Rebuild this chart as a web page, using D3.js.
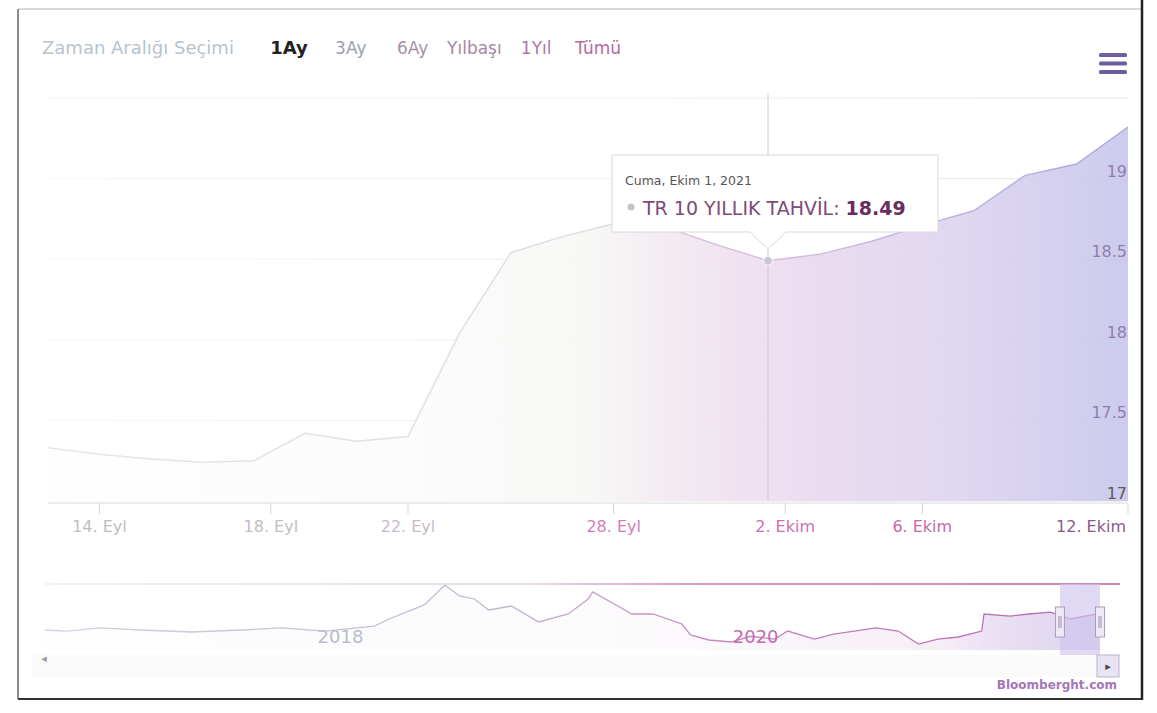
<!DOCTYPE html>
<html>
<head>
<meta charset="utf-8">
<script src="https://cdnjs.cloudflare.com/ajax/libs/d3/7.8.5/d3.min.js"></script>
<style>
body { margin: 0; background: #fff; }
text { font-family: "DejaVu Sans", sans-serif; }
</style>
</head>
<body>
<div id="chart"></div>
<script>
// main series (trading days, ordinal axis)
var dates = ['2021-09-13','2021-09-14','2021-09-15','2021-09-16','2021-09-17',
             '2021-09-20','2021-09-21','2021-09-22','2021-09-23','2021-09-24',
             '2021-09-27','2021-09-28','2021-09-29','2021-09-30','2021-10-01',
             '2021-10-04','2021-10-05','2021-10-06','2021-10-07','2021-10-08',
             '2021-10-11','2021-10-12'];
var values = [17.33, 17.29, 17.26, 17.24, 17.25,
              17.42, 17.37, 17.40, 18.04, 18.54,
              18.64, 18.72, 18.70, 18.59, 18.49,
              18.53, 18.61, 18.71, 18.80, 19.02,
              19.09, 19.32];
var tick_dates = ['2021-09-14','2021-09-18','2021-09-22','2021-09-28','2021-10-02','2021-10-06','2021-10-12'];
var tick_labels = ['14. Eyl','18. Eyl','22. Eyl','28. Eyl','2. Ekim','6. Ekim','12. Ekim'];
var y_ticks = [17, 17.5, 18, 18.5, 19, 19.5];
var range_buttons = ['1Ay','3Ay','6Ay','Yılbaşı','1Yıl','Tümü'];
var hover_index = 14;

// navigator history
var nav_dates = ['2016-09-14','2016-10-23','2016-12-20','2017-03-01','2017-05-30','2017-08-25',
                 '2017-11-03','2018-01-19','2018-04-16','2018-05-12','2018-07-13','2018-08-18',
                 '2018-09-13','2018-10-09','2018-11-03','2018-12-13','2019-01-30','2019-03-23',
                 '2019-04-27','2019-05-05','2019-06-18','2019-07-13','2019-08-19','2019-10-09',
                 '2019-10-24','2019-11-25','2020-01-04','2020-02-06','2020-03-20','2020-04-12',
                 '2020-05-29','2020-07-02','2020-08-07','2020-09-14','2020-10-23','2020-11-28',
                 '2021-01-01','2021-02-06','2021-03-19','2021-03-23','2021-05-08','2021-06-10',
                 '2021-07-18','2021-08-22','2021-10-08','2021-10-12'];
var nav_values = [16.48, 16.35, 16.73, 16.48, 16.23, 16.48,
                  16.73, 16.35, 16.97, 17.84, 19.58, 22.05,
                  20.69, 20.32, 18.96, 19.45, 17.47, 18.46,
                  20.32, 21.19, 19.45, 18.46, 18.46, 17.22,
                  15.86, 15.24, 14.99, 15.70, 15.36, 16.35,
                  15.36, 15.98, 16.35, 16.73, 16.35, 14.74,
                  15.36, 15.61, 16.35, 18.46, 18.20, 18.46,
                  18.70, 17.84, 18.46, 18.71];
var nav_years = ['2018', '2020'];

var chart_width = 1157;
var chart_height = 713;
var plot = {left: 48, right: 1128, top: 98, bottom: 501};

var parse = d3.timeParse('%Y-%m-%d');

var svg = d3.select('#chart')
            .append('svg')
            .attr('width', chart_width)
            .attr('height', chart_height);

var defs = svg.append('defs');

function hgrad(id, x1, x2, stops){
    var g = defs.append('linearGradient')
        .attr('id', id)
        .attr('gradientUnits', 'userSpaceOnUse')
        .attr('x1', x1).attr('x2', x2).attr('y1', 0).attr('y2', 0);
    stops.forEach(function(s){
        g.append('stop').attr('offset', s[0]).attr('stop-color', s[1]);
    });
}
hgrad('area-grad', plot.left, plot.right, [[0,'#fefefe'],[0.35,'#fbfbfb'],[0.5,'#f7f7f5'],
      [0.58,'#f2e9f1'],[0.68,'#ecdcef'],[0.85,'#ddd4f0'],[1,'#c9c8ec']]);
hgrad('line-grad', plot.left, plot.right, [[0,'#e6e6e6'],[0.5,'#dedede'],[0.6,'#dcc4dc'],[1,'#a9a8dc']]);
hgrad('nav-area-grad', 45, 1100, [[0,'#fefefe'],[0.6,'#fcfafc'],[0.85,'#f6eef6'],[0.89,'#ebe2f4'],[1,'#dcd3f0']]);
hgrad('nav-line-grad', 45, 1100, [[0,'#cfd5de'],[0.45,'#bdb6cc'],[0.6,'#c98cc0'],[1,'#b868b0']]);
hgrad('nav-outline-grad', 45, 1120, [[0,'#eeeeee'],[0.45,'#e0d0e0'],[0.6,'#d07ab8'],[1,'#c05aa8']]);
hgrad('grid-grad', plot.left, plot.right, [[0,'#f6f6f6'],[0.6,'#eeeeee'],[1,'#e4e4e4']]);

//Scales
var x = d3.scaleLinear().domain([0, dates.length - 1]).range([plot.left, plot.right]);
var y = d3.scaleLinear().domain([17, 19.5]).range([plot.bottom, plot.top]);

var times = dates.map(function(d){ return parse(d).getTime(); });
function date_index(s){
    var t = parse(s).getTime();
    var i = d3.bisectLeft(times, t);
    if (times[i] === t) return i;
    return i - 1 + (t - times[i - 1]) / (times[i] - times[i - 1]);
}

var label_color = d3.scaleLinear()
    .domain([48, 450, 620, 950, 1128])
    .range(['#bdbdbd', '#c9bbc9', '#d47bb8', '#c466a8', '#8a5a8a']);

// frame of the printed page
svg.append('line').attr('x1', 18).attr('y1', 9).attr('x2', 1142).attr('y2', 9)
    .attr('stroke', '#b5b5b5').attr('stroke-width', 1);
svg.append('line').attr('x1', 18).attr('y1', 9).attr('x2', 18).attr('y2', 699)
    .attr('stroke', '#666').attr('stroke-width', 1.5);
svg.append('line').attr('x1', 18).attr('y1', 699).attr('x2', 1142).attr('y2', 699)
    .attr('stroke', '#333').attr('stroke-width', 2);
svg.append('line').attr('x1', 1142).attr('y1', 0).attr('x2', 1142).attr('y2', 700)
    .attr('stroke', '#222').attr('stroke-width', 2.5);

// range selector
svg.append('text')
    .attr('x', 42).attr('y', 54)
    .attr('font-size', '18px')
    .attr('fill', '#b8c3cc')
    .text('Zaman Aralığı Seçimi');

var btn_x = d3.scalePoint().domain(range_buttons).range([289, 598]);
var btn_color = d3.scaleLinear().domain([340, 600]).range(['#9aa3ab', '#b56a9e']);
svg.selectAll('.btn')
    .data(range_buttons)
    .enter()
    .append('text')
    .attr('class', 'btn')
    .attr('x', function(d){ return btn_x(d); })
    .attr('y', 54)
    .attr('text-anchor', 'middle')
    .attr('font-size', function(d, i){ return i === 0 ? '18px' : '17px'; })
    .attr('font-weight', function(d, i){ return i === 0 ? 'bold' : 'normal'; })
    .attr('fill', function(d, i){ return i === 0 ? '#222' : btn_color(btn_x(d)); })
    .text(function(d){ return d; });

// menu icon
svg.selectAll('.menu')
    .data([0, 1, 2])
    .enter()
    .append('rect')
    .attr('x', 1099).attr('width', 28).attr('height', 4).attr('rx', 1.5)
    .attr('y', function(d){ return 53 + d * 8.5; })
    .attr('fill', '#6e5e9e');

// gridlines
svg.selectAll('.grid')
    .data(y_ticks)
    .enter()
    .append('line')
    .attr('x1', plot.left).attr('x2', plot.right)
    .attr('y1', function(d){ return y(d); })
    .attr('y2', function(d){ return y(d); })
    .attr('stroke', 'url(#grid-grad)')
    .attr('stroke-width', 1);

// area + line
var area = d3.area()
    .x(function(d, i){ return x(i); })
    .y0(plot.bottom)
    .y1(function(d){ return y(d); });
var line = d3.line()
    .x(function(d, i){ return x(i); })
    .y(function(d){ return y(d); });

svg.append('path')
    .datum(values)
    .attr('d', area)
    .attr('fill', 'url(#area-grad)')
    .attr('fill-opacity', 0.94);
svg.append('path')
    .datum(values)
    .attr('d', line)
    .attr('fill', 'none')
    .attr('stroke', 'url(#line-grad)')
    .attr('stroke-width', 1.5);

// x axis
svg.append('line')
    .attr('x1', plot.left).attr('x2', plot.right)
    .attr('y1', plot.bottom + 2).attr('y2', plot.bottom + 2)
    .attr('stroke', '#dadada');
svg.selectAll('.xtick')
    .data(tick_dates)
    .enter()
    .append('line')
    .attr('x1', function(d){ return x(date_index(d)); })
    .attr('x2', function(d){ return x(date_index(d)); })
    .attr('y1', plot.bottom + 2).attr('y2', plot.bottom + 13)
    .attr('stroke', '#d4d4d4');
svg.selectAll('.xlabel')
    .data(tick_dates)
    .enter()
    .append('text')
    .attr('x', function(d, i){
        var px = x(date_index(d));
        return i === tick_dates.length - 1 ? px - 2 : px;
    })
    .attr('y', plot.bottom + 31)
    .attr('text-anchor', function(d, i){ return i === tick_dates.length - 1 ? 'end' : 'middle'; })
    .attr('font-size', '16px')
    .attr('fill', function(d){ return label_color(x(date_index(d))); })
    .text(function(d, i){ return tick_labels[i]; });

// y axis labels (inside, right)
svg.selectAll('.ylabel')
    .data(y_ticks.slice(0, 5))
    .enter()
    .append('text')
    .attr('x', plot.right - 1)
    .attr('y', function(d){ return y(d) - 2; })
    .attr('text-anchor', 'end')
    .attr('font-size', '16px')
    .attr('fill', function(d){ return d === 17 ? '#5a5a5a' : '#8f7eaa'; })
    .text(function(d){ return d; });

// crosshair + hover marker
svg.append('line')
    .attr('x1', x(hover_index)).attr('x2', x(hover_index))
    .attr('y1', plot.top - 5).attr('y2', plot.bottom)
    .attr('stroke', '#cccccc');
svg.append('circle')
    .attr('cx', x(hover_index)).attr('cy', y(values[hover_index]))
    .attr('r', 4.5)
    .attr('fill', '#c8c8d4')
    .attr('stroke', '#fff')
    .attr('stroke-width', 1);

// tooltip
var tip = svg.append('g');
var tx = x(hover_index), ty = y(values[hover_index]);
tip.append('path')
    .attr('d', 'M612,155 H938 V232 H' + (tx + 18) + ' L' + tx + ',' + (ty - 12) +
               ' L' + (tx - 18) + ',232 H612 Z')
    .attr('fill', '#fff')
    .attr('stroke', '#dcd6de')
    .attr('stroke-width', 1);
tip.append('text')
    .attr('x', 625).attr('y', 185)
    .attr('font-size', '12.5px')
    .attr('fill', '#555')
    .text('Cuma, Ekim 1, 2021');
tip.append('circle')
    .attr('cx', 631).attr('cy', 207).attr('r', 3.5)
    .attr('fill', '#c4c4c4');
var t2 = tip.append('text')
    .attr('x', 643).attr('y', 215)
    .attr('font-size', '19px')
    .attr('fill', '#7e4a78');
t2.append('tspan').text('TR 10 YILLIK TAHVİL: ');
t2.append('tspan').attr('font-weight', 'bold').attr('fill', '#6a2c5e').text(values[hover_index].toFixed(2));

// navigator
var nx = d3.scaleTime()
    .domain([parse('2016-09-14'), parse('2021-10-13')])
    .range([45, 1100]);
var ny = d3.scaleLinear().domain([14, 22.3]).range([650, 583]);

var nav_area = d3.area()
    .x(function(d, i){ return nx(parse(nav_dates[i])); })
    .y0(650)
    .y1(function(d){ return ny(d); });
var nav_line = d3.line()
    .x(function(d, i){ return nx(parse(nav_dates[i])); })
    .y(function(d){ return ny(d); });

svg.append('path')
    .datum(nav_values)
    .attr('d', nav_area)
    .attr('fill', 'url(#nav-area-grad)');
svg.append('path')
    .datum(nav_values)
    .attr('d', nav_line)
    .attr('fill', 'none')
    .attr('stroke', 'url(#nav-line-grad)')
    .attr('stroke-width', 1.3);

svg.selectAll('.navyear')
    .data(nav_years)
    .enter()
    .append('text')
    .attr('x', function(d){ return nx(parse(d + '-01-01')) + 3; })
    .attr('y', 643)
    .attr('font-size', '18px')
    .attr('fill', function(d){ return d === '2018' ? '#b7bccc' : '#c46cb0'; })
    .text(function(d){ return d; });

// outline
svg.append('line')
    .attr('x1', 45).attr('x2', 1120).attr('y1', 584).attr('y2', 584)
    .attr('stroke', 'url(#nav-outline-grad)').attr('stroke-width', 1.5);

// selected range mask (last month)
var sel_x0 = nx(parse('2021-09-13')) - 23;
var sel_x1 = nx(parse('2021-10-13'));
svg.append('rect')
    .attr('x', sel_x0).attr('y', 584)
    .attr('width', sel_x1 - sel_x0).attr('height', 93)
    .attr('fill', '#cfc4ec').attr('fill-opacity', 0.65);

// scrollbar
svg.append('rect')
    .attr('x', 32).attr('y', 655).attr('width', 1087).attr('height', 22)
    .attr('fill', '#fafafb');
svg.append('text')
    .attr('x', 44).attr('y', 662)
    .attr('text-anchor', 'middle')
    .attr('font-size', '11px')
    .attr('fill', '#999')
    .text('◂');
svg.append('rect')
    .attr('x', 1097).attr('y', 655).attr('width', 22).attr('height', 22)
    .attr('fill', '#e9e4f5').attr('stroke', '#b9b4c8');
svg.append('text')
    .attr('x', 1108).attr('y', 670)
    .attr('text-anchor', 'middle')
    .attr('font-size', '11px')
    .attr('fill', '#444')
    .text('▸');

// handles
[sel_x0, sel_x1].forEach(function(hx){
    var h = svg.append('g').attr('transform', 'translate(' + (hx - 4.5) + ',607)');
    h.append('rect').attr('width', 9).attr('height', 30)
        .attr('fill', '#eeeaf4').attr('stroke', '#a99cc2');
    h.append('line').attr('x1', 3.5).attr('x2', 3.5).attr('y1', 9).attr('y2', 21).attr('stroke', '#9a8cb4');
    h.append('line').attr('x1', 5.5).attr('x2', 5.5).attr('y1', 9).attr('y2', 21).attr('stroke', '#9a8cb4');
});

// credit
svg.append('text')
    .attr('x', 1117).attr('y', 689)
    .attr('text-anchor', 'end')
    .attr('font-size', '12px')
    .attr('font-weight', 'bold')
    .attr('fill', '#a477b8')
    .text('Bloomberght.com');
</script>
</body>
</html>
